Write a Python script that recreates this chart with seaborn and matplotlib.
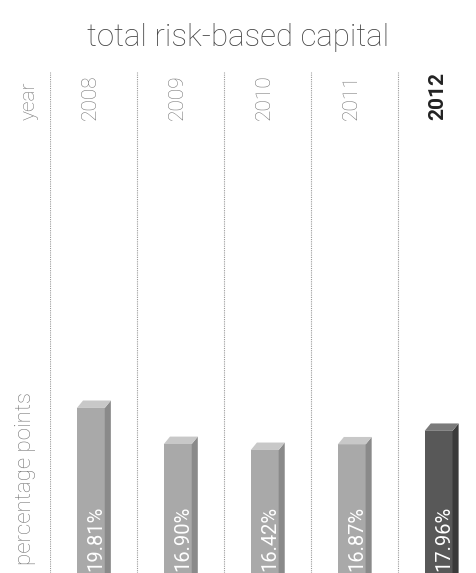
import matplotlib
matplotlib.use("Agg")
import matplotlib.pyplot as plt
import matplotlib.patches as mpatches
import seaborn as sns
import pandas as pd

# values
years = ["2008", "2009", "2010", "2011", "2012"]
capital = [19.81, 16.90, 16.42, 16.87, 17.96]
value_labels = ["19.81%", "16.90%", "16.42%", "16.87%", "17.96%"]

df = pd.DataFrame({"year": years, "capital": capital})

sns.set_theme(style="white")
plt.rcParams["font.family"] = ["Roboto", "DejaVu Sans"]

# front / side / top shades for the pseudo-3D bars
front = ["#a9a9a9", "#a9a9a9", "#a9a9a9", "#a9a9a9", "#585858"]
side = ["#8a8a8a", "#8a8a8a", "#8a8a8a", "#8a8a8a", "#3a3a3a"]
top = ["#c8c8c8", "#c8c8c8", "#c8c8c8", "#c8c8c8", "#7a7a7a"]

base = 6.5
fig = plt.figure(figsize=(4.76, 5.73), dpi=100)
ax = fig.add_axes([50 / 476, 0.0, 1 - 50 / 476, 1 - 72 / 573])

sns.barplot(data=df, x="year", y="capital", hue="year", palette=front,
            legend=False, width=0.32, ax=ax, linewidth=0, saturation=1)

ax.set_xlim(-0.5, 4.4)
ax.set_ylim(base, 46.9)

dx, dy = 0.07, 0.6
for i, p in enumerate(ax.patches):
    w, h = p.get_width(), p.get_height()
    x0 = p.get_x() - 0.03
    p.set_x(x0)
    x1 = x0 + w
    ax.add_patch(mpatches.Polygon([(x1, base), (x1 + dx, base), (x1 + dx, h + dy), (x1, h)],
                                  closed=True, color=side[i], lw=0))
    ax.add_patch(mpatches.Polygon([(x0, h), (x0 + dx, h + dy), (x1 + dx, h + dy), (x1, h)],
                                  closed=True, color=top[i], lw=0))
    ax.text(x0 + w / 2 + 0.06, base + 0.15, value_labels[i], rotation=90, ha="center",
            va="bottom", color="white", fontsize=14.5)

# dotted column separators
for xs in [-0.5, 0.5, 1.5, 2.5, 3.5]:
    ax.axvline(xs, color="#999999", linestyle=(0, (1, 1)), linewidth=0.8)

for s in ax.spines.values():
    s.set_visible(False)
ax.set_xticks([])
ax.set_yticks([])
ax.set_xlabel("")
ax.set_ylabel("")

# year header, bottom-aligned at the same height
hdr = ax.get_xaxis_transform()
for i, y in enumerate(years):
    bold = i == len(years) - 1
    ax.text(i - 0.04, 1 - 48 / 501, y, transform=hdr, rotation=90,
            ha="center", va="bottom", fontsize=15,
            color="#222222" if bold else "#777777",
            fontweight="bold" if bold else "light")

fig.text(29 / 476, 1 - 120 / 573, "year", rotation=90, ha="center", va="bottom",
         fontsize=15, color="#777777", fontweight="light")
fig.text(26 / 476, 8 / 573, "percentage points", rotation=90, ha="center", va="bottom",
         fontsize=16, color="#777777", fontweight="light")
fig.text(0.5, 1 - 38 / 573, "total risk-based capital", ha="center", va="center",
         fontsize=22.5, color="#444444", fontweight="light")

fig.savefig("out.png", dpi=100)
